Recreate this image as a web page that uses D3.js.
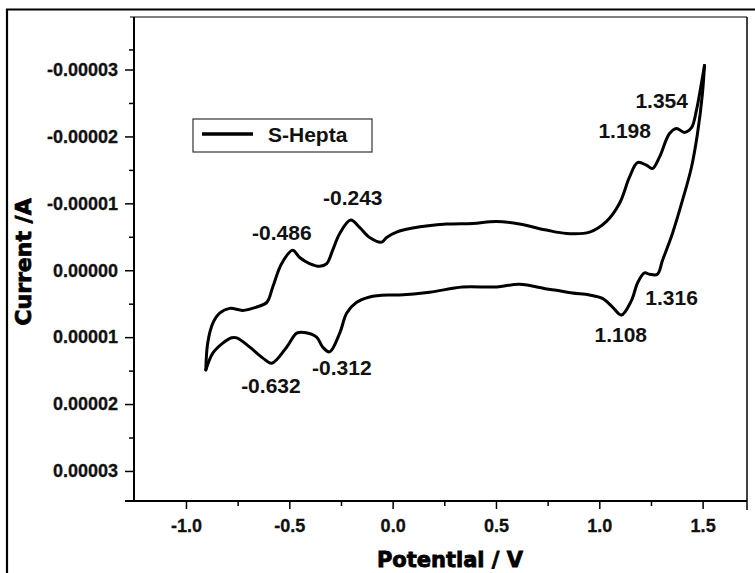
<!DOCTYPE html>
<html>
<head>
    <style type="text/css">
        body { margin: 0; background: #fff; }
        #mySvg { display: block; }
        .tick text {
            font-family: "Liberation Sans", Arial, sans-serif;
            font-weight: bold;
            font-size: 18px;
            fill: #111;
            stroke: #111;
            stroke-width: 0.3px;
        }
        .tick line { stroke: #000; stroke-width: 1.5px; }
        .axisTitle {
            font-family: "DejaVu Sans", sans-serif;
            font-weight: bold;
            fill: #000;
            stroke: #000;
            stroke-width: 0.8px;
        }
        .peakLabel {
            font-family: "Liberation Sans", Arial, sans-serif;
            font-weight: bold;
            font-size: 21px;
            text-anchor: middle;
            fill: #111;
        }
    </style>
    <script src="https://d3js.org/d3.v7.min.js"></script>
</head>
<body>
    <svg id="mySvg" width="755" height="573"></svg>
</body>
<script type="text/javascript">
// CV of S-Hepta (current in A)
// forward sweep, -0.9 V -> 1.5 V
const potentialFwd = [-0.904, -0.895, -0.870, -0.837, -0.788, -0.725, -0.658, -0.609, -0.580, -0.537,
    -0.484, -0.450, -0.402, -0.353, -0.319, -0.290, -0.256, -0.203, -0.160, -0.111,
    -0.053, -0.029, 0.019, 0.097, 0.261, 0.387, 0.503, 0.614, 0.745, 0.841,
    0.953, 1.035, 1.098, 1.146, 1.185, 1.228, 1.257, 1.291, 1.339, 1.373,
    1.412, 1.446, 1.470, 1.494, 1.509];
const currentFwd = [1.49e-5, 1.09e-5, 0.79e-5, 0.64e-5, 0.57e-5, 0.60e-5, 0.55e-5, 0.48e-5, 0.25e-5, -0.10e-5,
    -0.30e-5, -0.19e-5, -0.10e-5, -0.06e-5, -0.10e-5, -0.30e-5, -0.55e-5, -0.75e-5, -0.64e-5, -0.49e-5,
    -0.42e-5, -0.49e-5, -0.57e-5, -0.63e-5, -0.69e-5, -0.70e-5, -0.73e-5, -0.69e-5, -0.60e-5, -0.55e-5,
    -0.57e-5, -0.73e-5, -1.00e-5, -1.39e-5, -1.61e-5, -1.57e-5, -1.52e-5, -1.69e-5, -2.04e-5, -2.12e-5,
    -2.06e-5, -2.13e-5, -2.39e-5, -2.79e-5, -3.06e-5];

// reverse sweep, 1.5 V -> -0.9 V
const potentialRev = [1.509, 1.499, 1.475, 1.446, 1.402, 1.354, 1.306, 1.281, 1.243, 1.219,
    1.185, 1.156, 1.107, 1.064, 1.015, 0.953, 0.870, 0.793, 0.745, 0.614,
    0.503, 0.338, 0.179, 0.034, -0.015, -0.111, -0.174, -0.222, -0.256, -0.305,
    -0.338, -0.368, -0.426, -0.464, -0.513, -0.585, -0.629, -0.691, -0.754, -0.779,
    -0.822, -0.870, -0.904];
const currentRev = [-3.06e-5, -2.64e-5, -2.04e-5, -1.54e-5, -1.04e-5, -0.55e-5, -0.15e-5, 0.06e-5, 0.06e-5, 0.04e-5,
    0.19e-5, 0.45e-5, 0.67e-5, 0.55e-5, 0.42e-5, 0.37e-5, 0.34e-5, 0.30e-5, 0.28e-5, 0.21e-5,
    0.25e-5, 0.25e-5, 0.33e-5, 0.37e-5, 0.37e-5, 0.40e-5, 0.48e-5, 0.64e-5, 0.94e-5, 1.22e-5,
    1.15e-5, 1.00e-5, 0.93e-5, 0.94e-5, 1.15e-5, 1.39e-5, 1.31e-5, 1.15e-5, 1.01e-5, 1.01e-5,
    1.09e-5, 1.24e-5, 1.49e-5];

// peak labels and where they sit (potential, current)
const peakText = ['-0.486', '-0.243', '-0.632', '-0.312', '1.354', '1.198', '1.316', '1.108'];
const peakLabelV = [-0.536, -0.193, -0.589, -0.246, 1.302, 1.123, 1.350, 1.104];
const peakLabelI = [-0.452e-5, -0.975e-5, 1.835e-5, 1.565e-5, -2.425e-5, -1.977e-5, 0.523e-5, 1.076e-5];

// tick values
const xMajor = [-1.0, -0.5, 0.0, 0.5, 1.0, 1.5];
const xMinor = [-0.75, -0.25, 0.25, 0.75, 1.25];
const yMajor = [-3e-5, -2e-5, -1e-5, 0, 1e-5, 2e-5, 3e-5];
const yMinor = [-3.3e-5, -2.5e-5, -1.5e-5, -0.5e-5, 0.5e-5, 1.5e-5, 2.5e-5];

const seriesName = 'S-Hepta';

const plot = {left: 134, right: 747, top: 17, bottom: 501};

const svg = d3.select('#mySvg');

var x = d3.scaleLinear()
    .domain([-1.2515, 1.7147])
    .range([plot.left, plot.right]);

// current axis runs "upside down": negative at top
var y = d3.scaleLinear()
    .domain([-3.785e-5, 3.449e-5])
    .range([plot.top, plot.bottom]);

// outer picture frame (top and left visible)
svg.append('path')
    .attr('d', 'M7,580 L7,9.5 L760,9.5')
    .attr('fill', 'none')
    .attr('stroke', '#000')
    .attr('stroke-width', 2.2);

// minor ticks first, then major ticks with labels
svg.append('g')
    .attr('transform', 'translate(0,' + plot.bottom + ')')
    .call(d3.axisBottom(x).tickValues(xMinor).tickSize(5).tickFormat(''))
    .call(g => g.select('.domain').remove());

svg.append('g')
    .attr('transform', 'translate(0,' + plot.bottom + ')')
    .call(d3.axisBottom(x).tickValues(xMajor).tickSize(8).tickPadding(10)
        .tickFormat(d => d.toFixed(1)))
    .call(g => g.select('.domain').remove());

svg.append('g')
    .attr('transform', 'translate(' + plot.left + ',0)')
    .call(d3.axisLeft(y).tickValues(yMinor).tickSize(5).tickFormat(''))
    .call(g => g.select('.domain').remove());

svg.append('g')
    .attr('transform', 'translate(' + plot.left + ',0)')
    .call(d3.axisLeft(y).tickValues(yMajor).tickSize(9).tickPadding(7)
        .tickFormat(d => d.toFixed(5)))
    .call(g => g.select('.domain').remove());

// plot frame: thin top/right, heavy left/bottom
svg.append('line')
    .attr('x1', plot.left - 4).attr('x2', plot.right)
    .attr('y1', plot.top).attr('y2', plot.top)
    .attr('stroke', '#000').attr('stroke-width', 1.2);
svg.append('line')
    .attr('x1', plot.right).attr('x2', plot.right)
    .attr('y1', plot.top).attr('y2', plot.bottom + 9)
    .attr('stroke', '#000').attr('stroke-width', 1.5);
svg.append('line')
    .attr('x1', plot.left).attr('x2', plot.left)
    .attr('y1', plot.top).attr('y2', plot.bottom)
    .attr('stroke', '#000').attr('stroke-width', 2);
svg.append('line')
    .attr('x1', plot.left - 9).attr('x2', plot.right)
    .attr('y1', plot.bottom).attr('y2', plot.bottom)
    .attr('stroke', '#000').attr('stroke-width', 2);

// the voltammogram
var fwd = potentialFwd.map((v, i) => [v, currentFwd[i]]);
var rev = potentialRev.map((v, i) => [v, currentRev[i]]);

var line = d3.line()
    .x(d => x(d[0]))
    .y(d => y(d[1]))
    .curve(d3.curveCatmullRom.alpha(0.5));

svg.selectAll('path.cv')
    .data([fwd, rev])
    .enter()
    .append('path')
    .attr('class', 'cv')
    .attr('d', line)
    .attr('fill', 'none')
    .attr('stroke', '#000')
    .attr('stroke-width', 3)
    .attr('stroke-linejoin', 'round')
    .attr('stroke-linecap', 'round');

// peak potentials
svg.selectAll('text.peakLabel')
    .data(peakText)
    .enter()
    .append('text')
    .attr('class', 'peakLabel')
    .attr('x', (d, i) => x(peakLabelV[i]))
    .attr('y', (d, i) => y(peakLabelI[i]))
    .text(d => d);

// legend
var legend = svg.append('g').attr('transform', 'translate(193,119)');
legend.append('rect')
    .attr('width', 179).attr('height', 33)
    .attr('fill', '#fff')
    .attr('stroke', '#333').attr('stroke-width', 1.2);
legend.append('line')
    .attr('x1', 9).attr('x2', 60)
    .attr('y1', 15).attr('y2', 15)
    .attr('stroke', '#000').attr('stroke-width', 3.5);
legend.append('text')
    .attr('x', 75).attr('y', 23)
    .attr('class', 'peakLabel')
    .style('text-anchor', 'start')
    .text(seriesName);

// axis titles
svg.append('text')
    .attr('class', 'axisTitle')
    .attr('x', 450).attr('y', 567)
    .attr('text-anchor', 'middle')
    .style('font-size', '21px')
    .text('Potential / V');

svg.append('text')
    .attr('class', 'axisTitle')
    .attr('transform', 'translate(31,262) rotate(-90)')
    .attr('text-anchor', 'middle')
    .style('font-size', '22px')
    .text('Current /A');
</script>
</html>
